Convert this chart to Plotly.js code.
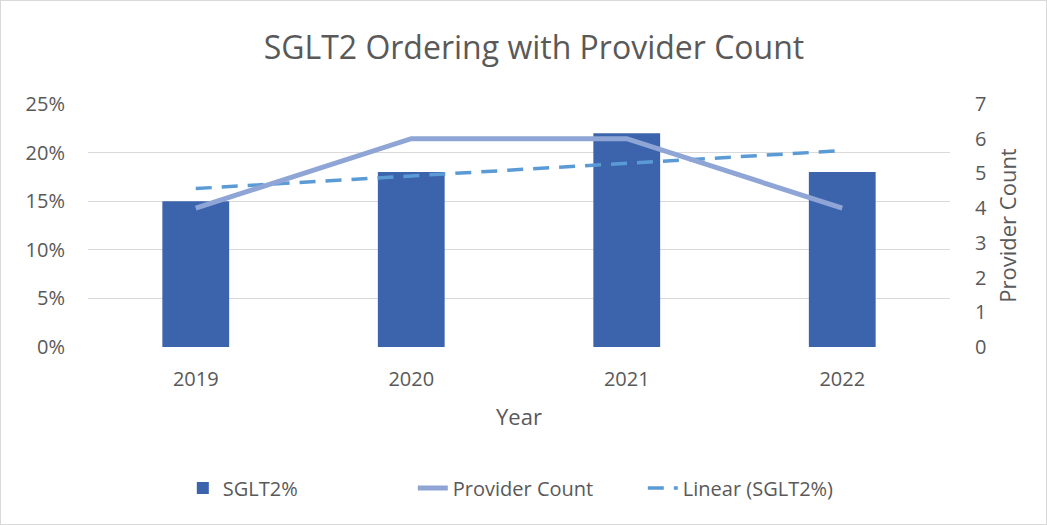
<!DOCTYPE html>
<html>
<head>
<meta charset="utf-8">
<script src="https://cdn.plot.ly/plotly-3.0.1.min.js"></script>
<style>
html,body{margin:0;padding:0;background:#fff;}
#chart{width:1045px;height:523px;border:1px solid #d9d9d9;}
</style>
</head>
<body>
<div id="chart"></div>
<script>
const years = ['2019', '2020', '2021', '2022'];
const sglt2Pct = [0.15, 0.18, 0.22, 0.18];
const providerCount = [4, 6, 6, 4];
const linearSglt2 = [0.163, 0.176, 0.189, 0.202];

const font = '"Open Sans", "Noto Sans", sans-serif';
const grey = '#595959';

const traces = [
  {
    type: 'bar', name: 'SGLT2%', x: years, y: sglt2Pct,
    marker: {color: '#3B64AD'}, width: 0.31, yaxis: 'y'
  },
  {
    type: 'scatter', mode: 'lines', name: 'Provider Count', x: years, y: providerCount,
    line: {color: '#8FA5D6', width: 5}, yaxis: 'y2'
  },
  {
    type: 'scatter', mode: 'lines', name: 'Linear (SGLT2%)', x: years, y: linearSglt2,
    line: {color: '#5B9BD5', width: 3.5, dash: '16px,10px'}, yaxis: 'y'
  }
];

const layout = {
  width: 1045, height: 523,
  margin: {l: 87, r: 96, t: 103, b: 177},
  paper_bgcolor: '#ffffff', plot_bgcolor: '#ffffff',
  font: {family: font, color: grey, size: 20},
  title: {text: 'SGLT2 Ordering with Provider Count', font: {size: 32, color: grey, family: font},
          x: 0.51, xanchor: 'center', y: 0.91, yanchor: 'middle', yref: 'container'},
  xaxis: {
    type: 'category', showgrid: false, zeroline: false, showline: false, ticks: '',
    tickfont: {size: 20, color: grey}, ticklabelstandoff: 18,
    title: {text: 'Year', font: {size: 22, color: grey}, standoff: 18}
  },
  yaxis: {
    range: [0, 0.25], dtick: 0.05, tickformat: '.0%',
    gridcolor: '#d9d9d9', gridwidth: 1, zeroline: false, showline: false,
    tickfont: {size: 20, color: grey}, ticklabelstandoff: 22
  },
  yaxis2: {
    overlaying: 'y', side: 'right', range: [0, 7], dtick: 1,
    showgrid: false, zeroline: false, showline: false,
    tickfont: {size: 20, color: grey}, ticklabelstandoff: 24,
    title: {text: 'Provider Count', font: {size: 22, color: grey}, standoff: 14}
  },
  showlegend: true,
  legend: {
    orientation: 'h', x: 0.11, xanchor: 'left', y: -0.58, yanchor: 'middle',
    font: {size: 20, color: grey}, entrywidth: 185, traceorder: 'normal'
  },
  bargap: 0.69
};

Plotly.newPlot('chart', traces, layout, {displayModeBar: false, staticPlot: true});
</script>
</body>
</html>
